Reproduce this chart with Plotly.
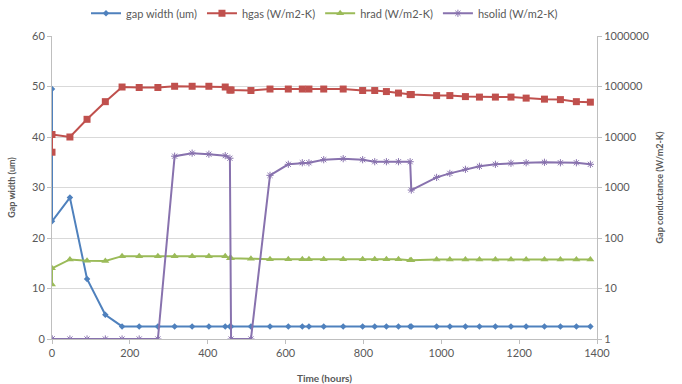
import plotly.graph_objects as go

time_hours = [0, 0, 46, 90, 137, 180, 224, 272, 315, 360, 403, 445, 457, 460, 511, 560,
              607, 643, 660, 698, 748, 798, 829, 859, 890, 920, 923, 988, 1022, 1062,
              1098, 1139, 1179, 1218, 1265, 1306, 1347, 1383]

gap_width_um = [49.5, 23.3, 28.0, 11.9, 4.8, 2.5, 2.5, 2.5, 2.5, 2.5, 2.5, 2.5, 2.5, 2.5, 2.5, 2.5,
                2.5, 2.5, 2.5, 2.5, 2.5, 2.5, 2.5, 2.5, 2.5, 2.5, 2.5, 2.5, 2.5, 2.5,
                2.5, 2.5, 2.5, 2.5, 2.5, 2.5, 2.5, 2.5]

hgas = [5000, 11200, 10000, 22400, 50100, 97700, 95500, 95500, 101000, 101000, 101000, 97700,
        85100, 85100, 83200, 89100, 89100, 89100, 89100, 89100, 89100, 83200, 83200, 79400,
        74100, 69200, 69200, 66100, 66100, 63100, 61700, 61700, 61700, 58900, 56200, 55000,
        50100, 49000]

hrad = [12.0, 25.1, 37.6, 35.5, 35.0, 43.7, 43.7, 43.7, 43.7, 43.7, 43.7, 43.7, 39.8, 39.8,
        38.9, 38.0, 38.0, 38.0, 38.0, 38.0, 38.0, 38.0, 38.0, 38.0, 38.0, 36.3, 36.3, 37.6,
        37.6, 37.6, 37.6, 37.6, 37.6, 37.6, 37.6, 37.6, 37.6, 37.6]

hsolid = [1, 1, 1, 1, 1, 1, 1, 1, 4170, 4790, 4570, 4270, 3800, 1, 1, 1740, 2880, 3090, 3090,
          3550, 3720, 3550, 3240, 3240, 3240, 3240, 890, 1585, 1905, 2290, 2630, 2880, 3020,
          3090, 3160, 3090, 3090, 2880]

x_ticks = [0, 200, 400, 600, 800, 1000, 1200, 1400]
left_ticks = [0, 10, 20, 30, 40, 50, 60]
right_ticks = [1, 10, 100, 1000, 10000, 100000, 1000000]

FONT = "Lato, 'Liberation Sans', Arial, sans-serif"
TXT = "#595959"
GRID = "#D9D9D9"

fig = go.Figure()
fig.add_trace(go.Scatter(x=time_hours, y=gap_width_um, name="gap width (um)", mode="lines+markers",
                         line=dict(color="#4F81BD", width=2),
                         marker=dict(symbol="diamond", size=5, color="#4F81BD"), yaxis="y"))
fig.add_trace(go.Scatter(x=time_hours, y=hgas, name="hgas (W/m2-K)", mode="lines+markers",
                         line=dict(color="#C0504D", width=2),
                         marker=dict(symbol="square", size=7, color="#C0504D"), yaxis="y2"))
fig.add_trace(go.Scatter(x=time_hours, y=hrad, name="hrad (W/m2-K)", mode="lines+markers",
                         line=dict(color="#9BBB59", width=2),
                         marker=dict(symbol="triangle-up", size=7, color="#9BBB59"), yaxis="y2"))
fig.add_trace(go.Scatter(x=time_hours, y=hsolid, name="hsolid (W/m2-K)", mode="lines+markers",
                         line=dict(color="#8872AE", width=2),
                         marker=dict(symbol="asterisk-open", size=6,
                                     line=dict(color="#A898C0", width=1)), yaxis="y2"))

fig.update_layout(
    width=682, height=384,
    margin=dict(l=52, r=85, t=36, b=45, autoexpand=False),
    paper_bgcolor="white", plot_bgcolor="white",
    font=dict(family=FONT, size=10, color=TXT),
    showlegend=True,
    legend=dict(orientation="h", x=0.5, xanchor="center", y=1.075, yanchor="middle",
                font=dict(size=11, color=TXT), itemwidth=30, tracegroupgap=0),
    xaxis=dict(range=[0, 1400], tickvals=x_ticks, showgrid=False, zeroline=False,
               showline=True, linecolor="#BFBFBF", ticks="outside", ticklen=4, tickcolor="#BFBFBF",
               title=dict(text="<b>Time (hours)</b>", font=dict(size=10, color=TXT), standoff=16),
               tickfont=dict(size=11, color=TXT)),
    yaxis=dict(range=[0, 60], tickvals=left_ticks, showgrid=True, gridcolor=GRID, zeroline=False,
               showline=True, linecolor="#BFBFBF", ticks="outside", ticklen=4, tickcolor="#BFBFBF",
               title=dict(text="<b>Gap width (um)</b>", font=dict(size=9, color=TXT), standoff=14),
               tickfont=dict(size=11, color=TXT)),
    yaxis2=dict(type="log", range=[0, 6], tickvals=right_ticks,
                ticktext=[str(v) for v in right_ticks], overlaying="y", side="right",
                showgrid=False, zeroline=False, showline=True, linecolor="#BFBFBF",
                ticks="outside", ticklen=4, tickcolor="#BFBFBF",
                title=dict(text="<b>Gap conductance (W/m2-K)</b>", font=dict(size=9, color=TXT), standoff=8),
                tickfont=dict(size=11, color=TXT)),
)

fig.write_html("out.html")
